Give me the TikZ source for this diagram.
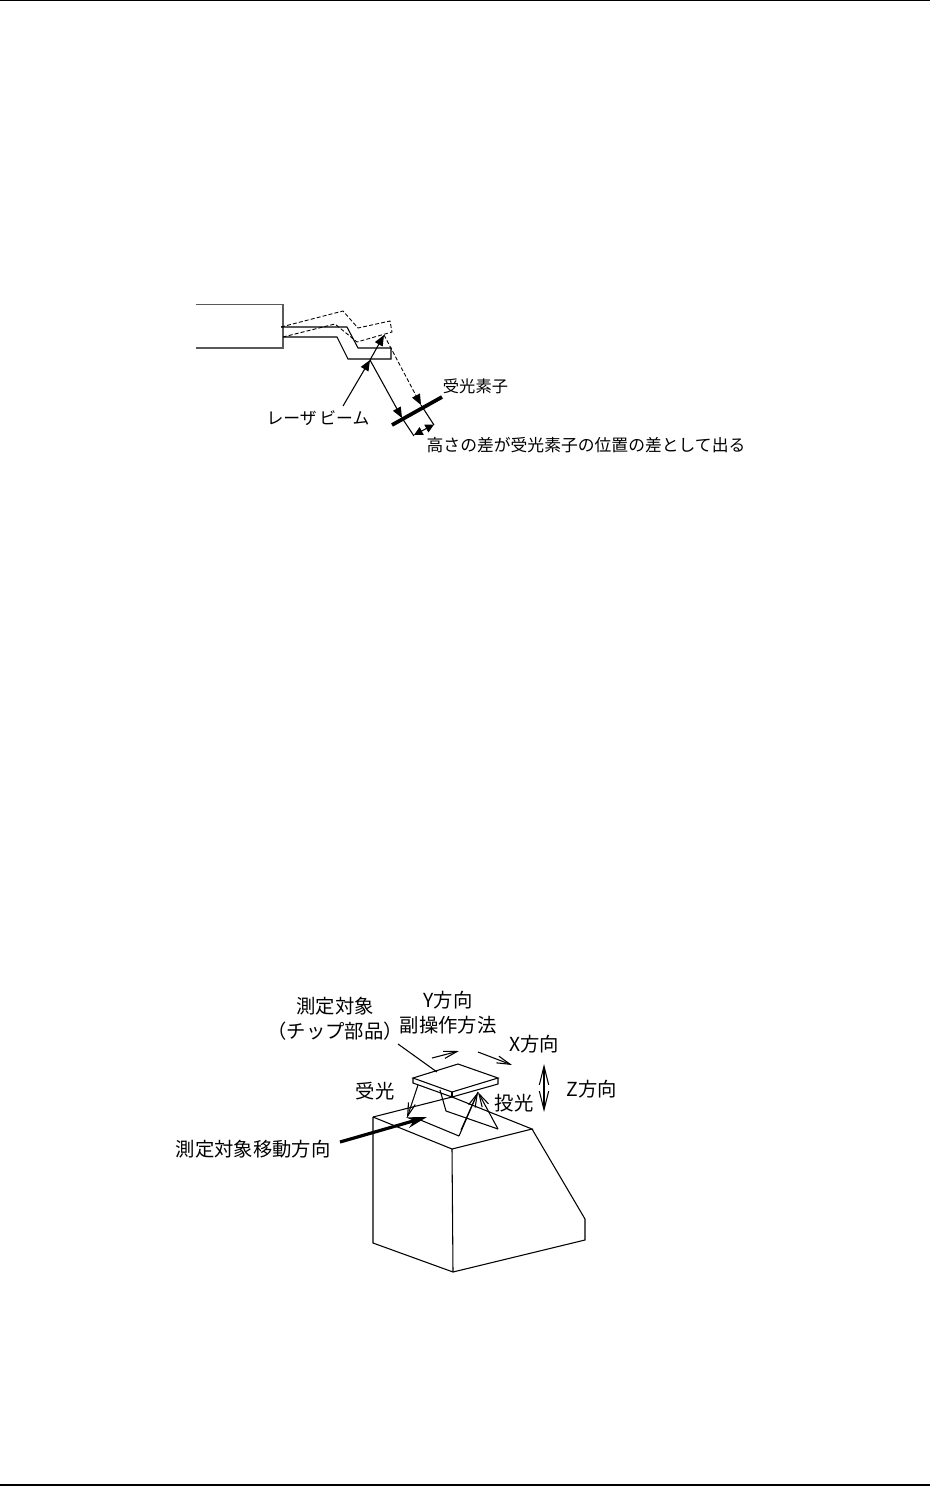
\documentclass[tikz,border=0pt]{standalone}
\usepackage{fontspec}
\setmainfont{Noto Sans CJK JP}[Scale=1]
\usetikzlibrary{arrows.meta}
\tikzset{
 x=0.75pt,y=-0.75pt,
 ln/.style={line width=0.8pt,black},
 gr/.style={line width=0.9pt,black!65},
 dsh/.style={line width=0.65pt,black,dash pattern=on 3pt off 1.6pt},
 tipa/.style={-{Triangle[length=8pt,width=6.5pt]}},
 tipo/.style={-{Straight Barb[length=10pt,width=6pt,angle'=30]}},
 lab/.style={inner sep=0pt,font=\fontsize{14.5pt}{18.7pt}\selectfont,align=center},
 labs/.style={inner sep=0pt,font=\fontsize{12.6pt}{14pt}\selectfont},
 labk/.style={inner sep=0pt,font=\fontsize{12.2pt}{14pt}\selectfont}
}
\begin{document}
\begin{tikzpicture}
\useasboundingbox (0,0) rectangle (930,1487);
\fill[white] (0,0) rectangle (930,1487);
\draw[line width=1pt] (0,0.7) -- (930,0.7);
\draw[line width=0.8pt] (0,1485) -- (930,1485);
% top figure
\draw[gr] (196,304.7) -- (283,304.7) -- (283,348) -- (196,348);
\draw[ln] (281,327) -- (347,327) -- (358,348) -- (391,348) -- (391,359) -- (348,359) -- (337,337) -- (283,337);
\draw[dsh] (281,327) -- (343,311) -- (358,328) -- (390,321) -- (392,332) -- (357,342) -- (335,324) -- (283,337);
\coordinate (spot1) at (370,360);
\coordinate (spot2) at (384,335);
\coordinate (e1) at (402,418);
\coordinate (e2) at (421,405);
\draw[ln,tipa] (spot1) -- (e1);
\draw[dsh,tipa] (spot2) -- (e2);
\draw[line width=2.8pt] (392,425) -- (442,397);
\draw[ln] (e1) -- (414,436);
\draw[ln] (e2) -- (434,425);
\coordinate (b1) at (343,406);
\draw[ln,tipa] (b1) -- (spot1);
\draw[ln,tipa] (spot1) -- (spot2);
\coordinate (m1) at (414,435); \coordinate (m2) at (434,424.5);
\draw[ln,{Triangle[length=6.5pt,width=6.5pt]}-{Triangle[length=6.5pt,width=6.5pt]}] (m1) -- (m2);
\node[labk] (t1) at (475.5,386) {受光素子};
\node[labs] (t2) at (318,418.5) {レーザ\kern2pt ビーム};
\node[labs] (t3) at (586,445) {高さの差が受光素子の位置の差として出る};
% bottom figure
\node[lab] (t4) at (335,1019) {測定対象\\（チップ部品）};
\node[lab] (t5) at (448,1012.5) {Y方向\\副操作方法};
\node[lab] (t6) at (534,1044) {X方向};
\node[lab] (t7) at (592,1089) {Z方向};
\node[lab] (t8) at (375,1091) {受光};
\node[lab] (t9) at (514,1103) {投光};
\node[lab] (t10) at (253,1149) {測定対象移動方向};
\coordinate (pa) at (398,1044); \coordinate (pb) at (437,1072);
\draw[ln] (pa) -- (pb);
\draw[ln] (413,1078) -- (458,1064) -- (498,1078) -- (452,1092) -- cycle;
\draw[ln] (413,1078) -- (413,1083) -- (452,1097) -- (498,1084) -- (498,1078);
\draw[ln] (452,1092) -- (452,1097);
\draw[ln,tipo] (432,1058) -- (459,1051);
\draw[ln,tipo] (478,1052) -- (512,1065);
\draw[ln,{Straight Barb[length=14pt,width=7pt]}-{Straight Barb[length=14pt,width=7pt]}] (544,1064) -- (544,1112);
% base
\draw[ln] (373,1117) -- (452,1097);
\draw[ln] (373,1117) -- (452,1149) -- (532,1129) -- (452,1097);
\draw[ln] (373,1117) -- (373,1243) -- (453,1272) -- (585,1240) -- (585,1219) -- (532,1129);
\draw[ln] (452,1149) -- (453,1272);
% recess
\draw[ln] (440,1090) -- (446,1111) -- (498,1129);
\draw[ln] (418,1119) -- (459,1136);
\draw[ln,tipo] (418,1085) -- (407,1118);
\draw[ln,tipo] (459,1136) -- (478,1092);
\draw[ln,tipo] (498,1129) -- (478,1092);
\draw[ln] (461,1130) -- (478,1092);
\draw[line width=2.4pt,-{Stealth[length=15pt,width=8pt]}] (340,1142) -- (427,1117);
\end{tikzpicture}
\end{document}
